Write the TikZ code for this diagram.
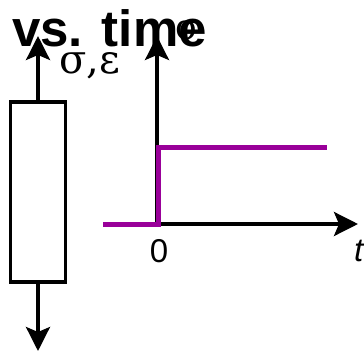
\documentclass[tikz,border=0pt]{standalone}
\usepackage{fontspec}
\setmainfont{Liberation Sans}
\newfontfamily\serifgr{DejaVu Serif}
\usetikzlibrary{arrows.meta}
\definecolor{stepcol}{HTML}{990099}
\begin{document}
\begin{tikzpicture}[x=1pt,y=-1pt,
  axis/.style={line width=3.5pt,-{Stealth[length=24pt,width=24pt,inset=5pt]}},
  lbl/.style={inner sep=0pt,anchor=base west},
  stepline/.style={line width=5pt,stepcol}]
\useasboundingbox (0,0) rectangle (364,353);
% sigma over the axis top, under title
\node[lbl,font=\fontsize{36}{36}\serifgr] (sigtop) at (175,40) {σ};
\node[lbl,font=\bfseries\fontsize{51}{51}\selectfont] (title) at (12,47) {vs. time};
\node[lbl,font=\fontsize{40}{40}\serifgr] (se) at (59,74) {σ,ε};
% specimen
\node[draw,line width=3.5pt,minimum width=55pt,minimum height=180pt,inner sep=0pt] (box) at (38,192) {};
\coordinate (uptip) at (38,36);
\coordinate (downtip) at (38,351);
\draw[axis] (box.north) -- (uptip);
\draw[axis] (box.south) -- (downtip);
% axes
\coordinate (origin) at (157,224);
\coordinate (ytip) at (157,36);
\coordinate (xtip) at (358,224);
\draw[axis] (origin) -- (ytip);
\draw[axis] (origin) -- (xtip);
% step
\coordinate (s0) at (103,224);
\coordinate (s1) at (158,224);
\coordinate (s2) at (158,147);
\coordinate (s3) at (327,147);
\draw[stepline] (s0) -- (s1) -- (s2) -- (s3);
\node[inner sep=0pt,anchor=base,font=\fontsize{33}{33}\selectfont] (zero) at (159,262) {0};
\node[lbl,font=\itshape\fontsize{33}{33}\selectfont] (t) at (354,261) {t};
\end{tikzpicture}
\end{document}
